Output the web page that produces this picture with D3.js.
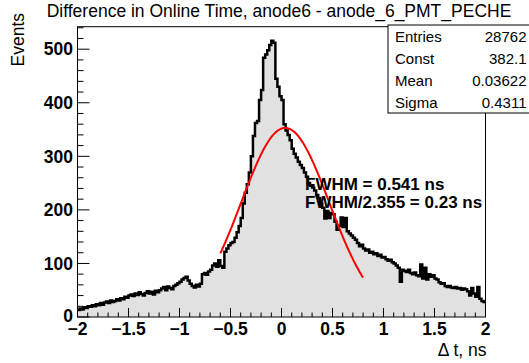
<!DOCTYPE html>
<html><head><meta charset="utf-8">
<script src="https://cdn.jsdelivr.net/npm/d3@7"></script>
<style>
html,body{margin:0;padding:0;background:#fff;}
svg{display:block;font-family:"Liberation Sans",Arial,Helvetica,sans-serif;}
</style></head><body>
<svg id="c" width="529" height="363"></svg>
<script>
// ---------------- data ----------------
const chartTitle = "Difference in Online Time, anode6 - anode_6_PMT_PECHE";
const xTitle = "\u0394 t, ns";
const yTitle = "Events";
const xRange = [-2, 2];
const yRange = [0, 542];
// 200 bins of 0.02 ns from -2 to 2
const counts = [
  13,16,14,18,17,20,19,22,20,24,
  22,26,23,27,29,26,31,28,30,33,
  31,35,33,38,36,40,42,39,44,41,
  46,43,40,45,48,44,47,42,49,46,
  50,53,56,50,57,54,52,58,60,63,
  66,70,73,75,68,62,58,55,60,57,
  62,80,82,79,85,88,96,100,94,106,
  95,92,122,128,134,138,140,148,158,170,
  185,212,232,248,270,300,338,362,366,405,
  424,484,490,498,508,516,512,445,430,412,
  405,360,348,340,330,314,305,298,290,284,
  278,270,262,250,245,242,236,228,222,212,
  204,184,198,185,194,192,178,163,170,186,
  168,185,160,156,152,148,144,138,132,135,
  128,124,126,120,122,117,119,114,116,111,
  112,108,105,107,102,100,96,92,66,88,
  86,84,88,82,80,83,78,76,98,72,
  92,70,80,75,78,72,70,65,62,63,
  58,56,58,55,54,56,53,54,51,53,
  52,48,40,54,44,38,56,34,30,28
];
const xTickValues = [-2, -1.5, -1, -0.5, 0, 0.5, 1, 1.5, 2];
const xTickLabels = ["\u22122", "\u22121.5", "\u22121", "\u22120.5", "0", "0.5", "1", "1.5", "2"];
const yTickValues = [0, 100, 200, 300, 400, 500];
const yTickLabels = ["0", "100", "200", "300", "400", "500"];
const statsLabels = ["Entries", "Const", "Mean", "Sigma"];
const statsValues = ["28762", "382.1", "0.03622", "0.4311"];
const fitAmplitude = 353;
const fitMean = 0.03622;
const fitSigma = 0.4311;
const fitRange = [-0.6, 0.8];
const fitLines = ["FWHM = 0.541 ns", "FWHM/2.355 = 0.23 ns"];

// ---------------- layout ----------------
const frame = {left: 77.5, right: 485.5, top: 26.7, bottom: 317};
const svg = d3.select("#c");
const x = d3.scaleLinear().domain(xRange).range([frame.left, frame.right]);
const y = d3.scaleLinear().domain(yRange).range([frame.bottom, frame.top]);
const nBins = counts.length;
const binW = (xRange[1] - xRange[0]) / nBins;

svg.append("defs").append("clipPath").attr("id", "fr")
  .append("rect").attr("x", frame.left).attr("y", frame.top)
  .attr("width", frame.right - frame.left).attr("height", frame.bottom - frame.top);

// histogram
const stepPts = [];
counts.forEach((c, i) => {
  const lo = xRange[0] + i * binW, hi = lo + binW;
  stepPts.push([lo, c], [hi, c]);
});
const area = d3.area().x(d => x(d[0])).y0(y(0)).y1(d => y(d[1]));
const line = d3.line().x(d => x(d[0])).y(d => y(d[1]));
const g = svg.append("g").attr("clip-path", "url(#fr)");
g.append("path").datum(stepPts).attr("d", area).attr("fill", "#e1e1e1");
g.append("path").datum(stepPts).attr("d", line)
  .attr("fill", "none").attr("stroke", "#000").attr("stroke-width", 2.5)
  .attr("stroke-linejoin", "miter");

// fit curve
const fitPts = d3.range(0, 121).map(k => {
  const v = fitRange[0] + (fitRange[1] - fitRange[0]) * k / 120;
  return [v, fitAmplitude * Math.exp(-0.5 * Math.pow((v - fitMean) / fitSigma, 2))];
});
g.append("path").datum(fitPts).attr("d", d3.line().x(d => x(d[0])).y(d => y(d[1])))
  .attr("fill", "none").attr("stroke", "#ff0000").attr("stroke-width", 2);

// frame
svg.append("rect").attr("x", frame.left).attr("y", frame.top)
  .attr("width", frame.right - frame.left).attr("height", frame.bottom - frame.top)
  .attr("fill", "none").attr("stroke", "#000").attr("stroke-width", 1);

// y ticks
const yMinor = d3.range(0, yRange[1] + 0.1, 20);
svg.append("g").selectAll("line").data(yMinor).join("line")
  .attr("x1", frame.left).attr("x2", d => frame.left + (d % 100 === 0 ? 12 : 6))
  .attr("y1", d => y(d)).attr("y2", d => y(d))
  .attr("stroke", "#000").attr("stroke-width", 1);
svg.append("g").selectAll("text").data(yTickValues).join("text")
  .attr("x", frame.left - 4.5).attr("y", d => y(d) + (d === 0 ? 5 : 6.3))
  .attr("text-anchor", "end").attr("font-weight", "bold").attr("font-size", 17.5)
  .text((d, i) => yTickLabels[i]);

// x ticks
const xMinor = d3.range(0, 41).map(k => xRange[0] + k * 0.1);
svg.append("g").selectAll("line").data(xMinor).join("line")
  .attr("x1", d => x(d)).attr("x2", d => x(d))
  .attr("y1", frame.bottom).attr("y2", (d, i) => frame.bottom - (i % 5 === 0 ? 9 : 4.5))
  .attr("stroke", "#000").attr("stroke-width", 1);
svg.append("g").selectAll("text").data(xTickValues).join("text")
  .attr("x", d => x(d)).attr("y", 334.5)
  .attr("text-anchor", "middle").attr("font-weight", "bold").attr("font-size", 17.5)
  .text((d, i) => xTickLabels[i]);

// axis titles
svg.append("text").attr("x", frame.right + 1).attr("y", 356)
  .attr("text-anchor", "end").attr("font-size", 17.5).text(xTitle);
svg.append("text").attr("transform", "translate(24,13) rotate(-90)")
  .attr("text-anchor", "end").attr("font-size", 17.5).text(yTitle);

// title
svg.append("text").attr("x", 279).attr("y", 17)
  .attr("text-anchor", "middle").attr("font-size", 17.5).text(chartTitle);

// stats box
const sb = {x: 388, y: 25, w: 150, h: 88};
svg.append("rect").attr("x", sb.x).attr("y", sb.y).attr("width", sb.w).attr("height", sb.h)
  .attr("fill", "#fff").attr("stroke", "#000").attr("stroke-width", 1);
const rowH = sb.h / statsLabels.length;
svg.append("g").selectAll("text").data(statsLabels).join("text")
  .attr("x", 395).attr("y", (d, i) => sb.y + rowH * (i + 0.5) + 5.5)
  .attr("font-size", 15).text(d => d);
svg.append("g").selectAll("text").data(statsValues).join("text")
  .attr("x", 526.5).attr("y", (d, i) => sb.y + rowH * (i + 0.5) + 5.5)
  .attr("text-anchor", "end").attr("font-size", 15).text(d => d);

// fit annotation
svg.append("g").selectAll("text").data(fitLines).join("text")
  .attr("x", 305).attr("y", (d, i) => 190 + i * 18)
  .attr("font-weight", "bold").attr("font-size", 17).text(d => d);
</script>
</body></html>
